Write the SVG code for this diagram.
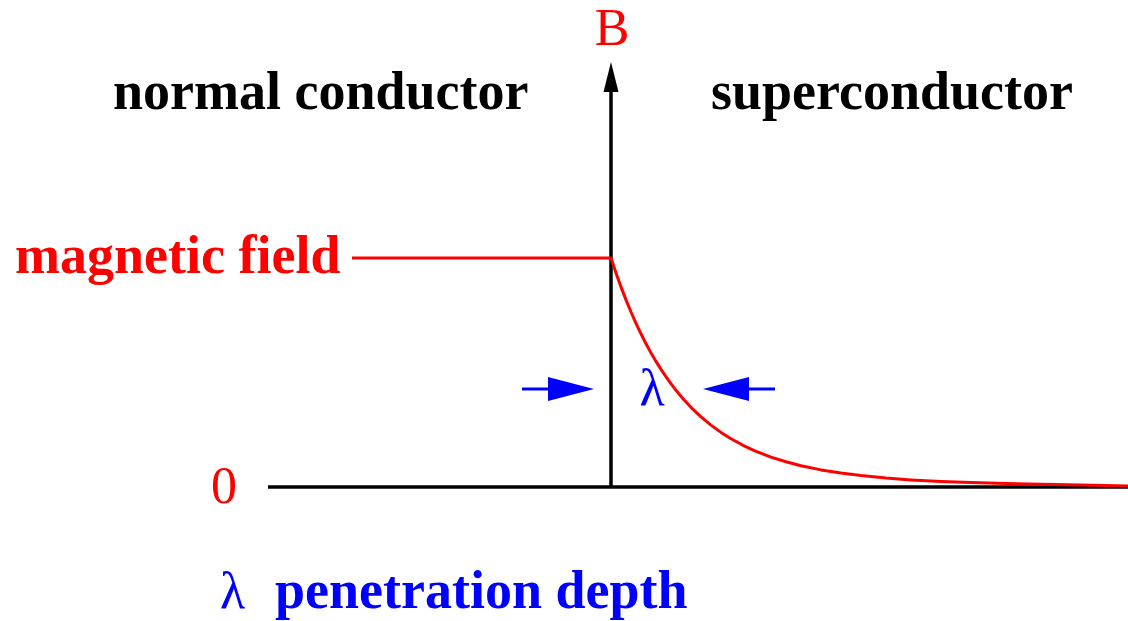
<svg xmlns="http://www.w3.org/2000/svg" width="1128" height="621" viewBox="0 0 1128 621">
<style>
.t{font-family:"Liberation Serif","Times New Roman",serif;font-size:54px;font-weight:bold}
.r{font-family:"Liberation Serif","Times New Roman",serif;font-size:52px}
.ax{stroke:#000;stroke-width:3.5;fill:none}
.red{stroke:#f00;stroke-width:3;fill:none;stroke-linejoin:round}
.blue{stroke:#00f;stroke-width:3;fill:none}
</style>
<rect width="1128" height="621" fill="#fff"/>
<g id="connectors">
<line class="ax" x1="268" y1="487" x2="1128" y2="487"/>
<line class="ax" x1="611" y1="488" x2="611" y2="88"/>
<polygon points="611,62 603.5,92 618.5,92" fill="#000"/>
<polyline class="red" points="352,258 611,258 616,272.9 621,286.9 626,299.9 631,312 636,323.3 641,333.8 646,343.7 651,352.9 656,361.4 661,369.4 668,379.7 676,390.3 683,398.7 691,407.3 701,416.8 711,425.1 721,432.4 731,438.7 743,445.3 756,451.3 771,457.1 786,461.8 801,465.7 821,469.9 841,473.1 861,475.6 886,478.1 911,479.9 941,481.5 971,482.6 1006,483.6 1041,484.3 1081,484.9 1128,486"/>
<line class="blue" x1="522" y1="389" x2="552" y2="389"/>
<polygon points="594,389 548,377 548,401" fill="#00f"/>
<line class="blue" x1="775" y1="389" x2="745" y2="389"/>
<polygon points="703,389 749,377 749,401" fill="#00f"/>
</g>
<g id="label-B"><text class="r" x="612" y="45" text-anchor="middle" fill="#f00">B</text></g>
<g id="label-normal"><text class="t" x="113" y="109" fill="#000">normal conductor</text></g>
<g id="label-super"><text class="t" x="711" y="109" fill="#000">superconductor</text></g>
<g id="label-field"><text class="t" x="15" y="273" fill="#f00">magnetic field</text></g>
<g id="label-zero"><text class="r" x="224" y="503" text-anchor="middle" fill="#f00">0</text></g>
<g id="label-lambda"><text class="r" x="652" y="405" text-anchor="middle" fill="#00f">λ</text></g>
<g id="label-depth"><text x="220" y="608" fill="#00f"><tspan class="r">λ</tspan><tspan class="t" x="275">penetration depth</tspan></text></g>
</svg>
